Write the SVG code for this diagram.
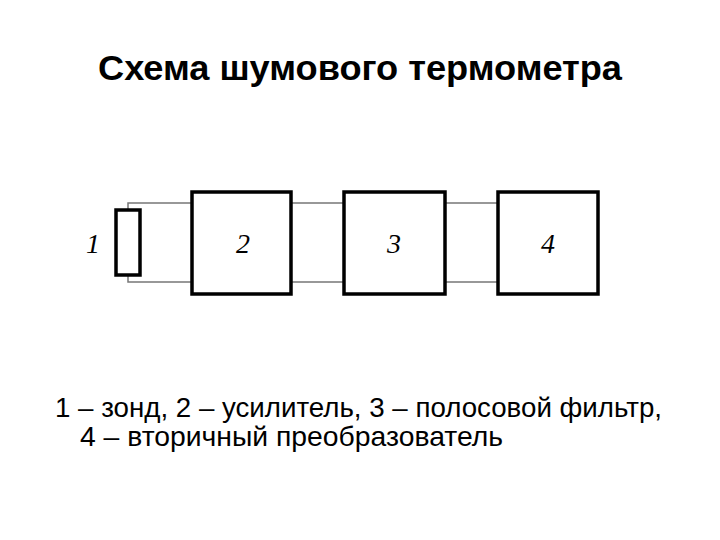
<svg xmlns="http://www.w3.org/2000/svg" width="720" height="540" viewBox="0 0 720 540">
<style>
.box{fill:#fff;stroke:#000;stroke-width:3.5}
.wire{fill:none;stroke:#777;stroke-width:1.5}
.num{font-family:"Liberation Serif",serif;font-style:italic;font-size:28px;text-anchor:middle}
.t{font-family:"Liberation Sans",Arial,sans-serif;fill:#000}
</style>
<rect width="720" height="540" fill="#fff"/>
<text class="t" x="360" y="80" font-size="35" font-weight="bold" text-anchor="middle" textLength="524" lengthAdjust="spacingAndGlyphs">Схема шумового термометра</text>
<g id="connectors">
<path class="wire" d="M128 209 V203 H191 M128 276 V282 H191 M292 203 H343 M292 282 H343 M446 203 H497 M446 282 H497"/>
</g>
<g id="node1">
<rect class="box" x="116" y="210" width="24" height="65"/>
<text class="num" x="93" y="253">1</text>
</g>
<g id="node2">
<rect class="box" x="192" y="192" width="99" height="102"/>
<text class="num" x="243" y="253">2</text>
</g>
<g id="node3">
<rect class="box" x="344" y="192" width="101" height="102"/>
<text class="num" x="394" y="253">3</text>
</g>
<g id="node4">
<rect class="box" x="498" y="192" width="100" height="102"/>
<text class="num" x="548" y="253">4</text>
</g>
<text class="t" x="55" y="417" font-size="28" textLength="607" lengthAdjust="spacingAndGlyphs">1 – зонд, 2 – усилитель, 3 – полосовой фильтр,</text>
<text class="t" x="80" y="446" font-size="28" textLength="423" lengthAdjust="spacingAndGlyphs">4 – вторичный преобразователь</text>
</svg>
